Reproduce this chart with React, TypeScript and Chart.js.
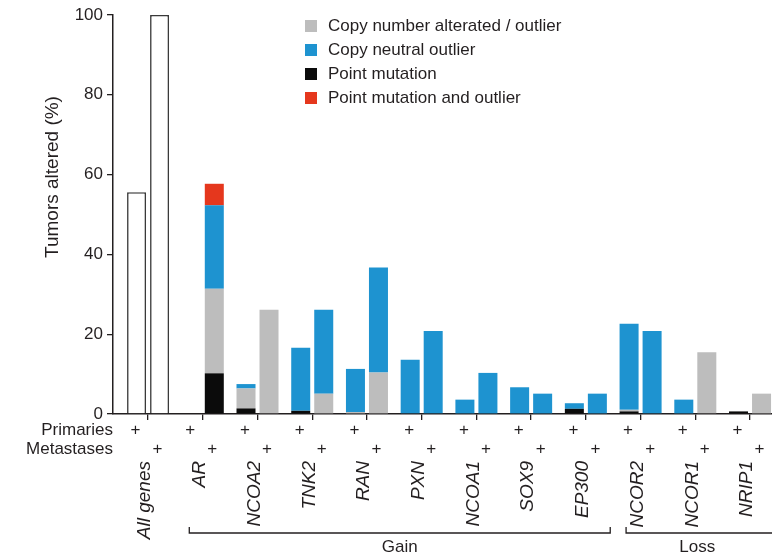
import React, { useEffect, useRef } from 'react';
import { Chart, registerables } from 'chart.js';

Chart.register(...registerables);

// Gene groups along the x axis (one slot per group: primaries + metastases)
const groups = ['All genes', 'AR', 'NCOA2', 'TNK2', 'RAN', 'PXN', 'NCOA1', 'SOX9', 'EP300', 'NCOR2', 'NCOR1', 'NRIP1'];
const gainGenes = ['AR', 'NCOA2', 'TNK2', 'RAN', 'PXN', 'NCOA1', 'SOX9', 'EP300'];
const lossGenes = ['NCOR2', 'NCOR1', 'NRIP1'];
const yTicks = [0, 20, 40, 60, 80, 100];

const seriesLabels = ['Copy number alterated / outlier', 'Copy neutral outlier', 'Point mutation', 'Point mutation and outlier'];

// Percent of tumors altered, all genes combined
const allGenesPrimaries = [55.6, null, null, null, null, null, null, null, null, null, null, null];
const allGenesMetastases = [100, null, null, null, null, null, null, null, null, null, null, null];

// Primaries, by alteration type
const pointMutationPrimaries = [null, null, 1.4, 0.8, null, null, null, null, 1.3, 0.65, null, 0.65];
const copyNumberPrimaries = [null, null, 5.0, null, 0.5, null, null, null, null, 0.4, null, null];
const copyNeutralPrimaries = [null, null, 1.1, 15.8, 10.8, 13.6, 3.6, 6.7, 1.4, 21.6, 3.6, null];
const mutationOutlierPrimaries = [null, null, null, null, null, null, null, null, null, null, null, null];

// Metastases, by alteration type
const pointMutationMetastases = [null, 10.2, null, null, null, null, null, null, null, null, null, null];
const copyNumberMetastases = [null, 21.2, 26.1, 5.1, 10.4, null, null, null, null, null, 15.5, 5.1];
const copyNeutralMetastases = [null, 20.9, null, 21.0, 26.3, 20.8, 10.3, 5.1, 5.1, 20.8, null, null];
const mutationOutlierMetastases = [null, 5.4, null, null, null, null, null, null, null, null, null, null];

const FONT = "'Liberation Sans', Arial, Helvetica, sans-serif";
const INK = '#231f20';
const COLORS: Record<string, string> = {
  'Copy number alterated / outlier': '#bdbdbd',
  'Copy neutral outlier': '#1e93d0',
  'Point mutation': '#0b0b0b',
  'Point mutation and outlier': '#e5371d',
};

const toXY = (vals: (number | null)[]) => vals.map((v, i) => ({ x: i, y: v }));

function makeStack(stack: string, all: (number | null)[], pm: (number | null)[], cn: (number | null)[], neu: (number | null)[], both: (number | null)[]) {
  const common = { stack, categoryPercentage: 0.841, barPercentage: 0.826 };
  return [
    { ...common, label: 'All genes ' + stack, data: toXY(all), backgroundColor: '#ffffff', borderColor: '#3a3a3a', borderWidth: 1.6 },
    { ...common, label: seriesLabels[2], data: toXY(pm), backgroundColor: COLORS[seriesLabels[2]], borderWidth: 0 },
    { ...common, label: seriesLabels[0], data: toXY(cn), backgroundColor: COLORS[seriesLabels[0]], borderWidth: 0 },
    { ...common, label: seriesLabels[1], data: toXY(neu), backgroundColor: COLORS[seriesLabels[1]], borderWidth: 0 },
    { ...common, label: seriesLabels[3], data: toXY(both), backgroundColor: COLORS[seriesLabels[3]], borderWidth: 0 },
  ];
}

export default function App() {
  const ref = useRef<HTMLCanvasElement>(null);

  useEffect(() => {
    document.body.style.margin = '0';
    const canvas = ref.current!;
    const datasets: any[] = [
      ...makeStack('Primaries', allGenesPrimaries, pointMutationPrimaries, copyNumberPrimaries, copyNeutralPrimaries, mutationOutlierPrimaries),
      ...makeStack('Metastases', allGenesMetastases, pointMutationMetastases, copyNumberMetastases, copyNeutralMetastases, mutationOutlierMetastases),
    ];
    const boundaries = groups.map((_, i) => i - 0.5).concat([groups.length - 0.5]);

    const decor = {
      id: 'decor',
      afterDraw(chart: any) {
        const ctx = chart.ctx as CanvasRenderingContext2D;
        const xs = chart.scales.x;
        const area = chart.chartArea;
        const primMeta = chart.getDatasetMeta(0);
        const metMeta = chart.getDatasetMeta(5);
        ctx.save();
        ctx.fillStyle = INK;
        ctx.strokeStyle = INK;

        // y axis title
        ctx.save();
        ctx.translate(53, 177);
        ctx.rotate(-Math.PI / 2);
        ctx.font = `19px ${FONT}`;
        ctx.textAlign = 'center';
        ctx.textBaseline = 'middle';
        ctx.fillText('Tumors altered (%)', 0, 0);
        ctx.restore();

        // sample-type rows
        ctx.font = `17px ${FONT}`;
        ctx.textAlign = 'right';
        ctx.textBaseline = 'middle';
        ctx.fillText('Primaries', area.left, 430);
        ctx.fillText('Metastases', area.left, 449);
        ctx.textAlign = 'center';
        groups.forEach((_, i) => {
          ctx.fillText('+', primMeta.data[i].x - 1, 430);
          ctx.fillText('+', metMeta.data[i].x - 2, 449);
        });

        // gene names
        ctx.font = `italic 19px ${FONT}`;
        groups.forEach((g, i) => {
          ctx.save();
          ctx.translate(xs.getPixelForValue(i) - 3, 461);
          ctx.rotate(-Math.PI / 2);
          ctx.textAlign = 'right';
          ctx.textBaseline = 'middle';
          ctx.fillText(g, 0, 0);
          ctx.restore();
        });

        // Gain / Loss brackets
        const bracket = (x1: number, x2: number, text: string, tx: number) => {
          ctx.lineWidth = 1.3;
          ctx.beginPath();
          ctx.moveTo(x1, 527);
          ctx.lineTo(x1, 533);
          ctx.lineTo(x2, 533);
          ctx.lineTo(x2, 527);
          ctx.stroke();
          ctx.font = `17px ${FONT}`;
          ctx.textAlign = 'center';
          ctx.textBaseline = 'middle';
          ctx.fillText(text, tx, 547);
        };
        const gFirst = groups.indexOf(gainGenes[0]);
        const gLast = groups.indexOf(gainGenes[gainGenes.length - 1]);
        const lFirst = groups.indexOf(lossGenes[0]);
        const lLast = groups.indexOf(lossGenes[lossGenes.length - 1]);
        const gx1 = primMeta.data[gFirst].x - 2;
        const gx2 = xs.getPixelForValue(gLast + 0.5) - 3;
        bracket(gx1, gx2, 'Gain', (gx1 + gx2) / 2);
        const lx1 = primMeta.data[lFirst].x - 3;
        const lx2 = xs.getPixelForValue(lLast + 0.5);
        bracket(lx1, lx2, 'Loss', xs.getPixelForValue((lFirst + lLast) / 2) + 2);

        // legend
        ctx.font = `17px ${FONT}`;
        ctx.textAlign = 'left';
        ctx.textBaseline = 'middle';
        seriesLabels.forEach((label, k) => {
          const ds = chart.data.datasets.find((d: any) => d.label === label);
          ctx.fillStyle = ds.backgroundColor;
          ctx.fillRect(305, 20 + 24 * k, 12, 12);
          ctx.fillStyle = INK;
          ctx.fillText(label, 328, 26.5 + 24 * k);
        });
        ctx.restore();
      },
    };

    const chart = new Chart(canvas, {
      type: 'bar',
      data: { datasets },
      options: {
        responsive: false,
        animation: false,
        devicePixelRatio: 1,
        layout: { padding: { top: 15, left: 0, right: 0, bottom: 0 } },
        plugins: { legend: { display: false }, tooltip: { enabled: false } },
        scales: {
          x: {
            type: 'linear',
            stacked: true,
            min: -0.6407,
            max: 11.4014,
            offset: false,
            afterBuildTicks: (s: any) => {
              s.ticks = boundaries.map((v) => ({ value: v }));
            },
            afterFit: (s: any) => {
              s.height = 142;
            },
            ticks: { display: false },
            grid: { drawOnChartArea: false, drawTicks: true, tickLength: 6, color: INK, lineWidth: 1.3 },
            border: { color: INK, width: 1.5 },
          },
          y: {
            stacked: true,
            min: 0,
            max: 100,
            afterBuildTicks: (s: any) => {
              s.ticks = yTicks.map((v) => ({ value: v }));
            },
            afterFit: (s: any) => {
              s.width = 113;
            },
            ticks: { color: INK, font: { family: FONT, size: 17 }, padding: 4 },
            grid: { drawOnChartArea: false, drawTicks: true, tickLength: 6, color: INK, lineWidth: 1.3 },
            border: { color: INK, width: 1.5 },
          },
        },
      } as any,
      plugins: [decor],
    });
    return () => chart.destroy();
  }, []);

  return <canvas ref={ref} width={772} height={556} style={{ display: 'block' }} />;
}
